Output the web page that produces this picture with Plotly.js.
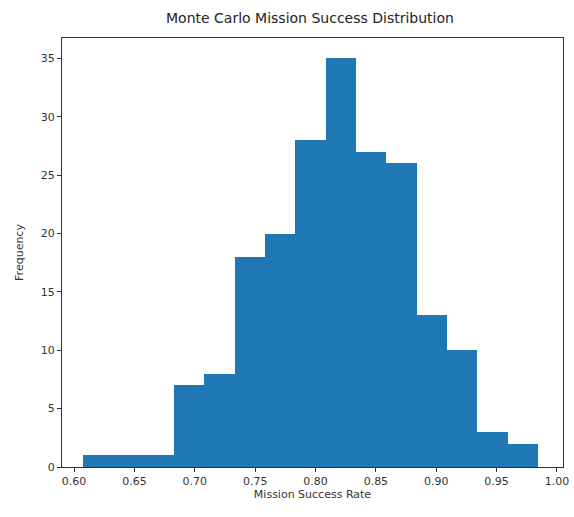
<!DOCTYPE html>
<html>
<head>
<meta charset="utf-8">
<script src="https://cdn.plot.ly/plotly-3.0.1.min.js"></script>
<style>html,body{margin:0;padding:0;background:#fff;}#chart{width:574px;height:517px;}</style>
</head>
<body>
<div id="chart"></div>
<script>
// Bin edges (mission success rate)
var binEdges = [0.6075, 0.6326, 0.6577, 0.6829, 0.7080, 0.7331, 0.7582, 0.7833, 0.8085, 0.8336, 0.8587, 0.8838, 0.9089, 0.9341, 0.9592, 0.9843];
// Frequency in each bin
var counts = [1, 1, 1, 7, 8, 18, 20, 28, 35, 27, 26, 13, 10, 3, 2];
var xTickVals = [0.60, 0.65, 0.70, 0.75, 0.80, 0.85, 0.90, 0.95, 1.00];
var xTickText = ["0.60", "0.65", "0.70", "0.75", "0.80", "0.85", "0.90", "0.95", "1.00"];
var yTickVals = [0, 5, 10, 15, 20, 25, 30, 35];

var centers = [], widths = [];
for (var i = 0; i < counts.length; i++) {
  centers.push((binEdges[i] + binEdges[i + 1]) / 2);
  widths.push(binEdges[i + 1] - binEdges[i]);
}

var trace = {
  type: 'bar',
  x: centers,
  y: counts,
  width: widths,
  marker: {color: '#1f77b4', line: {width: 0}},
  hoverinfo: 'x+y'
};

var fontFam = 'DejaVu Sans, sans-serif';
var layout = {
  width: 574, height: 517,
  margin: {l: 62, r: 11, t: 38, b: 50},
  paper_bgcolor: '#fff', plot_bgcolor: '#fff',
  showlegend: false,
  bargap: 0,
  title: {text: 'Monte Carlo Mission Success Distribution', font: {family: fontFam, size: 14, color: '#222'}, x: 0.54, xanchor: 'center', y: 0.965, yanchor: 'middle'},
  xaxis: {
    range: [0.590, 1.005],
    tickvals: xTickVals, ticktext: xTickText,
    ticks: 'outside', ticklen: 4, tickcolor: '#333', tickwidth: 1,
    showgrid: false, zeroline: false,
    showline: true, linecolor: '#333', linewidth: 1, mirror: true,
    tickfont: {family: fontFam, size: 11, color: '#333'},
    title: {text: 'Mission Success Rate', font: {family: fontFam, size: 11, color: '#333'}, standoff: 2}
  },
  yaxis: {
    range: [0, 36.75],
    tickvals: yTickVals,
    ticks: 'outside', ticklen: 4, tickcolor: '#333', tickwidth: 1,
    showgrid: false, zeroline: false,
    showline: true, linecolor: '#333', linewidth: 1, mirror: true,
    tickfont: {family: fontFam, size: 11, color: '#333'},
    title: {text: 'Frequency', font: {family: fontFam, size: 11, color: '#333'}, standoff: 14}
  }
};

Plotly.newPlot('chart', [trace], layout, {displayModeBar: false, staticPlot: true});
</script>
</body>
</html>
